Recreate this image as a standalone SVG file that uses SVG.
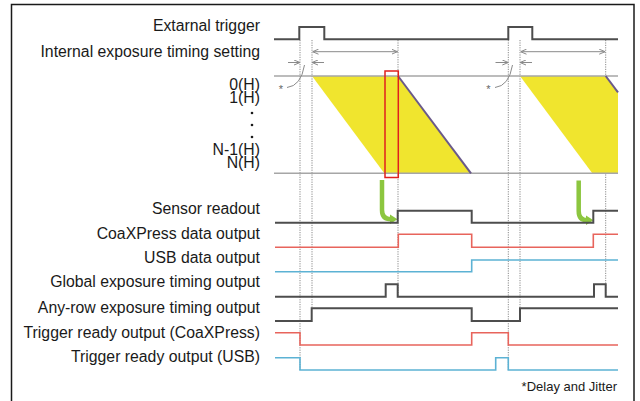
<svg xmlns="http://www.w3.org/2000/svg" width="640" height="401" viewBox="0 0 640 401">
<style>
.lbl{font-family:"Liberation Sans",Arial,sans-serif;font-size:15.8px;fill:#1a1a1a;text-anchor:end}
.sig{fill:none;stroke:#4d4d4d;stroke-width:2}
.red{fill:none;stroke:#e8645c;stroke-width:1.6}
.blue{fill:none;stroke:#5cb2d4;stroke-width:1.6}
.row{stroke:#a6a6a6;stroke-width:1.5}
.dot{stroke:#8a8a8a;stroke-width:1;stroke-dasharray:1.2 1.2}
.dim{fill:none;stroke:#8a8a8a;stroke-width:1}
.grn{fill:none;stroke:#8cc63f;stroke-width:4.5}
.ast{font-family:"Liberation Sans",Arial,sans-serif;font-size:11px;fill:#666;text-anchor:middle}
</style>
<defs>
<marker id="ah" viewBox="0 0 6 6" refX="6" refY="3" markerWidth="6" markerHeight="6" orient="auto-start-reverse" markerUnits="userSpaceOnUse">
<path d="M0,0.5 L6,3 L0,5.5" fill="none" stroke="#8a8a8a" stroke-width="1"/>
</marker>
</defs>
<rect x="11.5" y="4.5" width="622.5" height="420" fill="#fff" stroke="#1a1a1a" stroke-width="1.5"/>

<g id="labels">
<text class="lbl" x="260" y="31">Extarnal trigger</text>
<text class="lbl" x="260" y="57">Internal exposure timing setting</text>
<text class="lbl" x="260" y="90">0(H)</text>
<text class="lbl" x="260" y="102.5">1(H)</text>
<circle cx="252" cy="113" r="1.3" fill="#1a1a1a"/>
<circle cx="252" cy="125" r="1.3" fill="#1a1a1a"/>
<circle cx="252" cy="137" r="1.3" fill="#1a1a1a"/>
<text class="lbl" x="260" y="155">N-1(H)</text>
<text class="lbl" x="260" y="168">N(H)</text>
<text class="lbl" x="260" y="214">Sensor readout</text>
<text class="lbl" x="260" y="239">CoaXPress data output</text>
<text class="lbl" x="260" y="263">USB data output</text>
<text class="lbl" x="260" y="287">Global exposure timing output</text>
<text class="lbl" x="260" y="312.5">Any-row exposure timing output</text>
<text class="lbl" x="260" y="338">Trigger ready output (CoaXPress)</text>
<text class="lbl" x="260" y="361.5">Trigger ready output (USB)</text>
<text x="617" y="390.5" style="font-family:'Liberation Sans',Arial,sans-serif;font-size:13px;fill:#1a1a1a;text-anchor:end">*Delay and Jitter</text>
</g>

<g id="guides">
<line class="dot" x1="300" y1="40" x2="300" y2="370"/>
<line class="dot" x1="312" y1="40" x2="312" y2="308"/>
<line class="dot" x1="398" y1="40" x2="398" y2="297"/>
<line class="dot" x1="508.3" y1="40" x2="508.3" y2="370"/>
<line class="dot" x1="520" y1="40" x2="520" y2="308"/>
<line class="dot" x1="605.7" y1="40" x2="605.7" y2="297"/>
</g>

<g id="exposure">
<polygon points="312,76 398,76 471,173.3 384.3,173.3" fill="#f0e52e"/>
<polygon points="520,76 605.7,76 618,92.4 618,173.3 592.3,173.3" fill="#f0e52e"/>
<line class="row" x1="274" y1="76" x2="618" y2="76"/>
<line class="row" x1="274" y1="173.3" x2="618" y2="173.3"/>
<line x1="398" y1="76" x2="471" y2="173.3" stroke="#6a5a8a" stroke-width="2"/>
<line x1="605.7" y1="76" x2="618" y2="92.4" stroke="#6a5a8a" stroke-width="2"/>
<rect x="385" y="71" width="13.3" height="106.5" fill="none" stroke="#e0201e" stroke-width="1.5"/>
</g>

<g id="annotations">
<line class="dim" x1="312.5" y1="51.7" x2="397.5" y2="51.7" marker-start="url(#ah)" marker-end="url(#ah)"/>
<line class="dim" x1="288" y1="62.5" x2="300" y2="62.5" marker-end="url(#ah)"/>
<line class="dim" x1="324" y1="62.5" x2="312" y2="62.5" marker-end="url(#ah)"/>
<path class="dim" d="M287,87.5 Q301,86 304.5,65"/>
<text class="ast" x="281" y="93">*</text>
<line class="dim" x1="520.5" y1="51.7" x2="605.2" y2="51.7" marker-start="url(#ah)" marker-end="url(#ah)"/>
<line class="dim" x1="495.5" y1="62.5" x2="508.3" y2="62.5" marker-end="url(#ah)"/>
<line class="dim" x1="532" y1="62.5" x2="520" y2="62.5" marker-end="url(#ah)"/>
<path class="dim" d="M495,87.5 Q509,86 512.5,65"/>
<text class="ast" x="488.5" y="93">*</text>
</g>

<g id="readout-arrows">
<path class="grn" d="M382,180 V210 Q382,219.3 391,219.3"/>
<polygon points="390,214.5 397.5,219.3 390,224" fill="#8cc63f"/>
<path class="grn" d="M578.7,180.5 V211 Q578.7,220.3 587,220.3"/>
<polygon points="586,215.5 593.5,220.3 586,225" fill="#8cc63f"/>
</g>

<g id="signals">
<polyline id="ext-trigger" class="sig" points="274,39.3 299.3,39.3 299.3,27 324.3,27 324.3,39.3 508.3,39.3 508.3,27 532.3,27 532.3,39.3 618,39.3"/>
<polyline id="sensor-readout" class="sig" points="275,222.7 397.7,222.7 397.7,210.7 471.7,210.7 471.7,222.7 593.3,222.7 593.3,210.7 618,210.7"/>
<polyline id="coax-data" class="red" points="275,247.3 398.3,247.3 398.3,234.3 471.7,234.3 471.7,247.3 593.3,247.3 593.3,234.3 618,234.3"/>
<polyline id="usb-data" class="blue" points="275,271.7 471.7,271.7 471.7,260 618,260"/>
<polyline id="global-exp" class="sig" points="275,296.7 385.7,296.7 385.7,284.3 397.7,284.3 397.7,296.7 594,296.7 594,284.3 605.7,284.3 605.7,296.7 618,296.7"/>
<polyline id="anyrow-exp" class="sig" points="275,321 311.7,321 311.7,308.3 471.7,308.3 471.7,321 520,321 520,308.3 618,308.3"/>
<polyline id="trig-coax" class="red" points="275,332.7 300,332.7 300,345 471.7,345 471.7,332.7 508.3,332.7 508.3,345 618,345"/>
<polyline id="trig-usb" class="blue" points="275,357.7 300,357.7 300,370 495.7,370 495.7,357.7 508.3,357.7 508.3,370 618,370"/>
</g>
</svg>
